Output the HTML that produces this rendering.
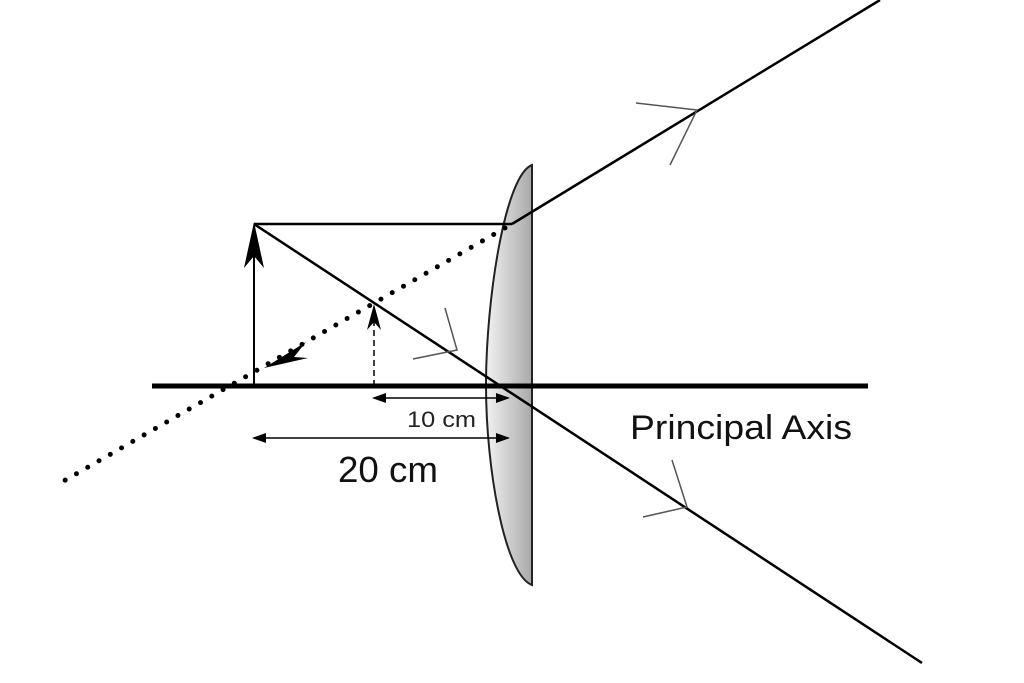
<!DOCTYPE html>
<html><head><style>body{margin:0;background:#fff}svg{display:block}</style></head><body>
<svg width="1024" height="683" viewBox="0 0 1024 683" xmlns="http://www.w3.org/2000/svg">
<defs>
<linearGradient id="g" x1="0" x2="1"><stop offset="0" stop-color="#f2f2f2"/><stop offset="1" stop-color="#a9a9a9"/></linearGradient>
</defs>
<rect width="1024" height="683" fill="#fff"/>
<path d="M532 165 C505 175 486 300 486 385 C486 470 505 575 532 585 Z" fill="url(#g)" stroke="#222" stroke-width="2"/>
<line x1="152" y1="386" x2="868" y2="386" stroke="#000" stroke-width="5"/>
<line x1="254" y1="386" x2="254" y2="226" stroke="#000" stroke-width="2"/>
<path d="M254 222 L244 268 L254 256 L264 268 Z" fill="#000"/>
<line x1="254" y1="224" x2="512" y2="224" stroke="#000" stroke-width="2.5"/>
<line x1="512" y1="224" x2="880" y2="0" stroke="#000" stroke-width="2.5"/>
<line x1="254" y1="224" x2="922" y2="663" stroke="#000" stroke-width="2.5"/>
<line x1="505" y1="228" x2="62" y2="482" stroke="#000" stroke-width="5" stroke-linecap="round" stroke-dasharray="0 13"/>
<path d="M264 368 L306 342 L294 357 L308 358 Z" fill="#000"/>
<line x1="374" y1="386" x2="374" y2="312" stroke="#000" stroke-width="1.5" stroke-dasharray="6 4"/>
<path d="M374 304 L367 330 L374 322 L381 330 Z" fill="#000"/>
<g stroke="#555" stroke-width="1.5" fill="none">
<path d="M636 103 L697 110 L670 165"/>
<path d="M672 460 L687 507 L643 517"/>
<path d="M445 308 L457 350 L413 359"/>
</g>
<g stroke="#000" stroke-width="1.5">
<line x1="374" y1="398" x2="508" y2="398"/>
<line x1="254" y1="438" x2="508" y2="438"/>
</g>
<path d="M372 398 L386 393 L386 403 Z M510 398 L496 393 L496 403 Z M252 438 L266 433 L266 443 Z M510 438 L496 433 L496 443 Z" fill="#000"/>
<text x="407" y="427" font-family="Liberation Sans, sans-serif" font-size="22" textLength="69" lengthAdjust="spacingAndGlyphs" fill="#222">10 cm</text>
<text x="338" y="482" font-family="Liberation Sans, sans-serif" font-size="36" textLength="100" lengthAdjust="spacingAndGlyphs" fill="#111">20 cm</text>
<text x="630" y="439" font-family="Liberation Sans, sans-serif" font-size="34" textLength="222" lengthAdjust="spacingAndGlyphs" fill="#111">Principal Axis</text>
</svg>
</body></html>
